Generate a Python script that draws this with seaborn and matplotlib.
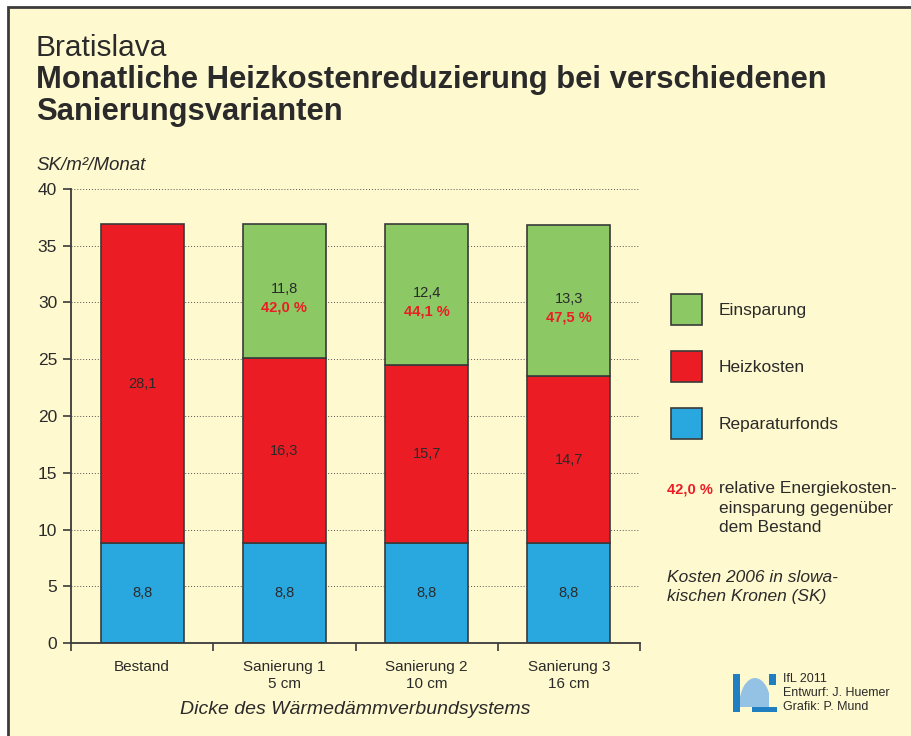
"""
Bratislava: monatliche Heizkostenreduzierung bei verschiedenen Sanierungsvarianten
"""

import numpy as np
import pandas as pd
import seaborn as sns
import matplotlib.pyplot as plt
from matplotlib.patches import Patch, Rectangle, Ellipse
from matplotlib.transforms import Affine2D

# Daten
categories = ["Bestand", "Sanierung 1", "Sanierung 2", "Sanierung 3"]
tick_labels = ["Bestand", "Sanierung 1\n5 cm", "Sanierung 2\n10 cm", "Sanierung 3\n16 cm"]
reparaturfonds = [8.8, 8.8, 8.8, 8.8]
heizkosten = [28.1, 16.3, 15.7, 14.7]
einsparung = [0.0, 11.8, 12.4, 13.3]
einsparung_pct = [None, 42.0, 44.1, 47.5]

bg = "#fff9cf"
green = "#8cc864"
red = "#ec1c24"
blue = "#29a8e0"
edge = "#3a3a3a"
txt = "#2a2a2a"

sns.set_style("ticks")
plt.rcParams["font.family"] = ["Liberation Sans", "DejaVu Sans"]


def fmt(v):
    return f"{v:.1f}".replace(".", ",")


df = pd.DataFrame({
    "variante": categories,
    "rep": reparaturfonds,
    "heiz": heizkosten,
    "ein": einsparung,
})
df["heiz_bottom"] = df["rep"]
df["ein_bottom"] = df["rep"] + df["heiz"]

fig = plt.figure(figsize=(9.11, 7.36), dpi=100)
fig.patch.set_facecolor("white")

# Pixel-Koordinaten (y von oben) -> Figur
px = Affine2D().scale(1 / 911, -1 / 736).translate(0, 1) + fig.transFigure

# Rahmen mit gelbem Hintergrund
fig.patches.append(Rectangle((8, 7), 920, 740, transform=px, facecolor=bg,
                             edgecolor="#3c3c3c", linewidth=2, zorder=-10))

ax = fig.add_axes([71 / 911, 1 - 643 / 736, 569 / 911, 454 / 736])
ax.set_facecolor("none")

bar_kws = dict(width=0.585, edgecolor=edge, linewidth=1.2, saturation=1, ax=ax)
sns.barplot(data=df, x="variante", y="rep", color=blue, **bar_kws)
sns.barplot(data=df, x="variante", y="heiz", color=red, bottom=df["heiz_bottom"].values, **bar_kws)
sns.barplot(data=df, x="variante", y="ein", color=green, bottom=df["ein_bottom"].values, **bar_kws)

for p in ax.patches:
    if p.get_height() == 0:
        p.set_visible(False)

# Beschriftungen in den Balken
for i in range(len(categories)):
    ax.text(i, reparaturfonds[i] / 2, fmt(reparaturfonds[i]), ha="center", va="center",
            fontsize=10.5, color=txt)
    ax.text(i, reparaturfonds[i] + heizkosten[i] / 2, fmt(heizkosten[i]), ha="center",
            va="center", fontsize=10.5, color=txt)
    if einsparung_pct[i] is not None:
        mid = reparaturfonds[i] + heizkosten[i] + einsparung[i] / 2
        ax.text(i, mid + 0.15, fmt(einsparung[i]), ha="center", va="center",
                fontsize=10.5, color=txt)
        ax.text(i, mid - 1.45, fmt(einsparung_pct[i]) + " %", ha="center", va="center",
                fontsize=10.5, color=red, fontweight="bold")

# Achsen
ax.set_ylim(0, 40)
ax.set_yticks(range(0, 41, 5))
ax.set_xlim(-0.5, 3.5)
ax.set_xticks([-0.5, 0.5, 1.5, 2.5, 3.5])
ax.set_xticklabels([])
ax.set_xticks(range(4), minor=True)
ax.set_xticklabels(tick_labels, minor=True, fontsize=11, color=txt, linespacing=1.25)
ax.tick_params(axis="x", which="minor", length=0, pad=12.5)
ax.tick_params(axis="x", which="major", length=6, width=1.2, color=edge, direction="out")
ax.tick_params(axis="y", length=6, width=1.2, color=edge, direction="out", pad=4,
               labelsize=12.5, labelcolor=txt)
ax.set_axisbelow(True)
ax.yaxis.grid(True, linestyle=(0, (1, 2)), color="#555555", linewidth=0.7)
sns.despine(ax=ax)
for s in ["left", "bottom"]:
    ax.spines[s].set_color(edge)
    ax.spines[s].set_linewidth(1.3)
ax.set_ylabel("")
ax.set_xlabel("Dicke des Wärmedämmverbundsystems", fontsize=14, fontstyle="italic",
              color=txt, labelpad=7)

# Titel
fig.text(36, 48, "Bratislava", transform=px, fontsize=21.5, color=txt, va="center")
fig.text(36, 80, "Monatliche Heizkostenreduzierung bei verschiedenen", transform=px,
         fontsize=22.3, fontweight="bold", color=txt, va="center")
fig.text(36, 112, "Sanierungsvarianten", transform=px, fontsize=22.3, fontweight="bold",
         color=txt, va="center")
fig.text(36, 165, "SK/m²/Monat", transform=px, fontsize=13.5, fontstyle="italic",
         color=txt, va="center")

# Legende
handles = [Patch(facecolor=green, edgecolor=edge, linewidth=1.2, label="Einsparung"),
           Patch(facecolor=red, edgecolor=edge, linewidth=1.2, label="Heizkosten"),
           Patch(facecolor=blue, edgecolor=edge, linewidth=1.2, label="Reparaturfonds")]
fig.legend(handles=handles, loc="upper left", bbox_to_anchor=(671 / 911, 1 - 294 / 736),
           frameon=False, fontsize=12.5, handlelength=1.8, handleheight=2.37,
           handletextpad=0.95, labelspacing=1.5, borderpad=0, borderaxespad=0,
           labelcolor=txt)

fig.text(667, 489, "42,0 %", transform=px, fontsize=10.5, fontweight="bold", color=red,
         va="center")
fig.text(719, 508, "relative Energiekosten-\neinsparung gegenüber\ndem Bestand", transform=px,
         fontsize=12.5, color=txt, va="center", linespacing=1.36)
fig.text(667, 587, "Kosten 2006 in slowa-\nkischen Kronen (SK)", transform=px,
         fontsize=12.5, fontstyle="italic", color=txt, va="center", linespacing=1.36)

# Logo
globe = Ellipse((755, 707), 32, 58, transform=px, facecolor="#93c2e4", edgecolor="none")
fig.patches.append(globe)
globe.set_clip_path(Rectangle((740, 674), 29, 33, transform=px))
for (x0, y0, w, h) in [(733, 674, 7, 38), (769, 674, 7, 11), (752, 707, 25, 5)]:
    fig.patches.append(Rectangle((x0, y0), w, h, transform=px, facecolor="#1f7fc0",
                                 edgecolor="none"))
fig.text(783, 693, "IfL 2011\nEntwurf: J. Huemer\nGrafik: P. Mund", transform=px,
         fontsize=9, color=txt, va="center", linespacing=1.25)

fig.savefig("out.png", dpi=100, facecolor=fig.get_facecolor())
